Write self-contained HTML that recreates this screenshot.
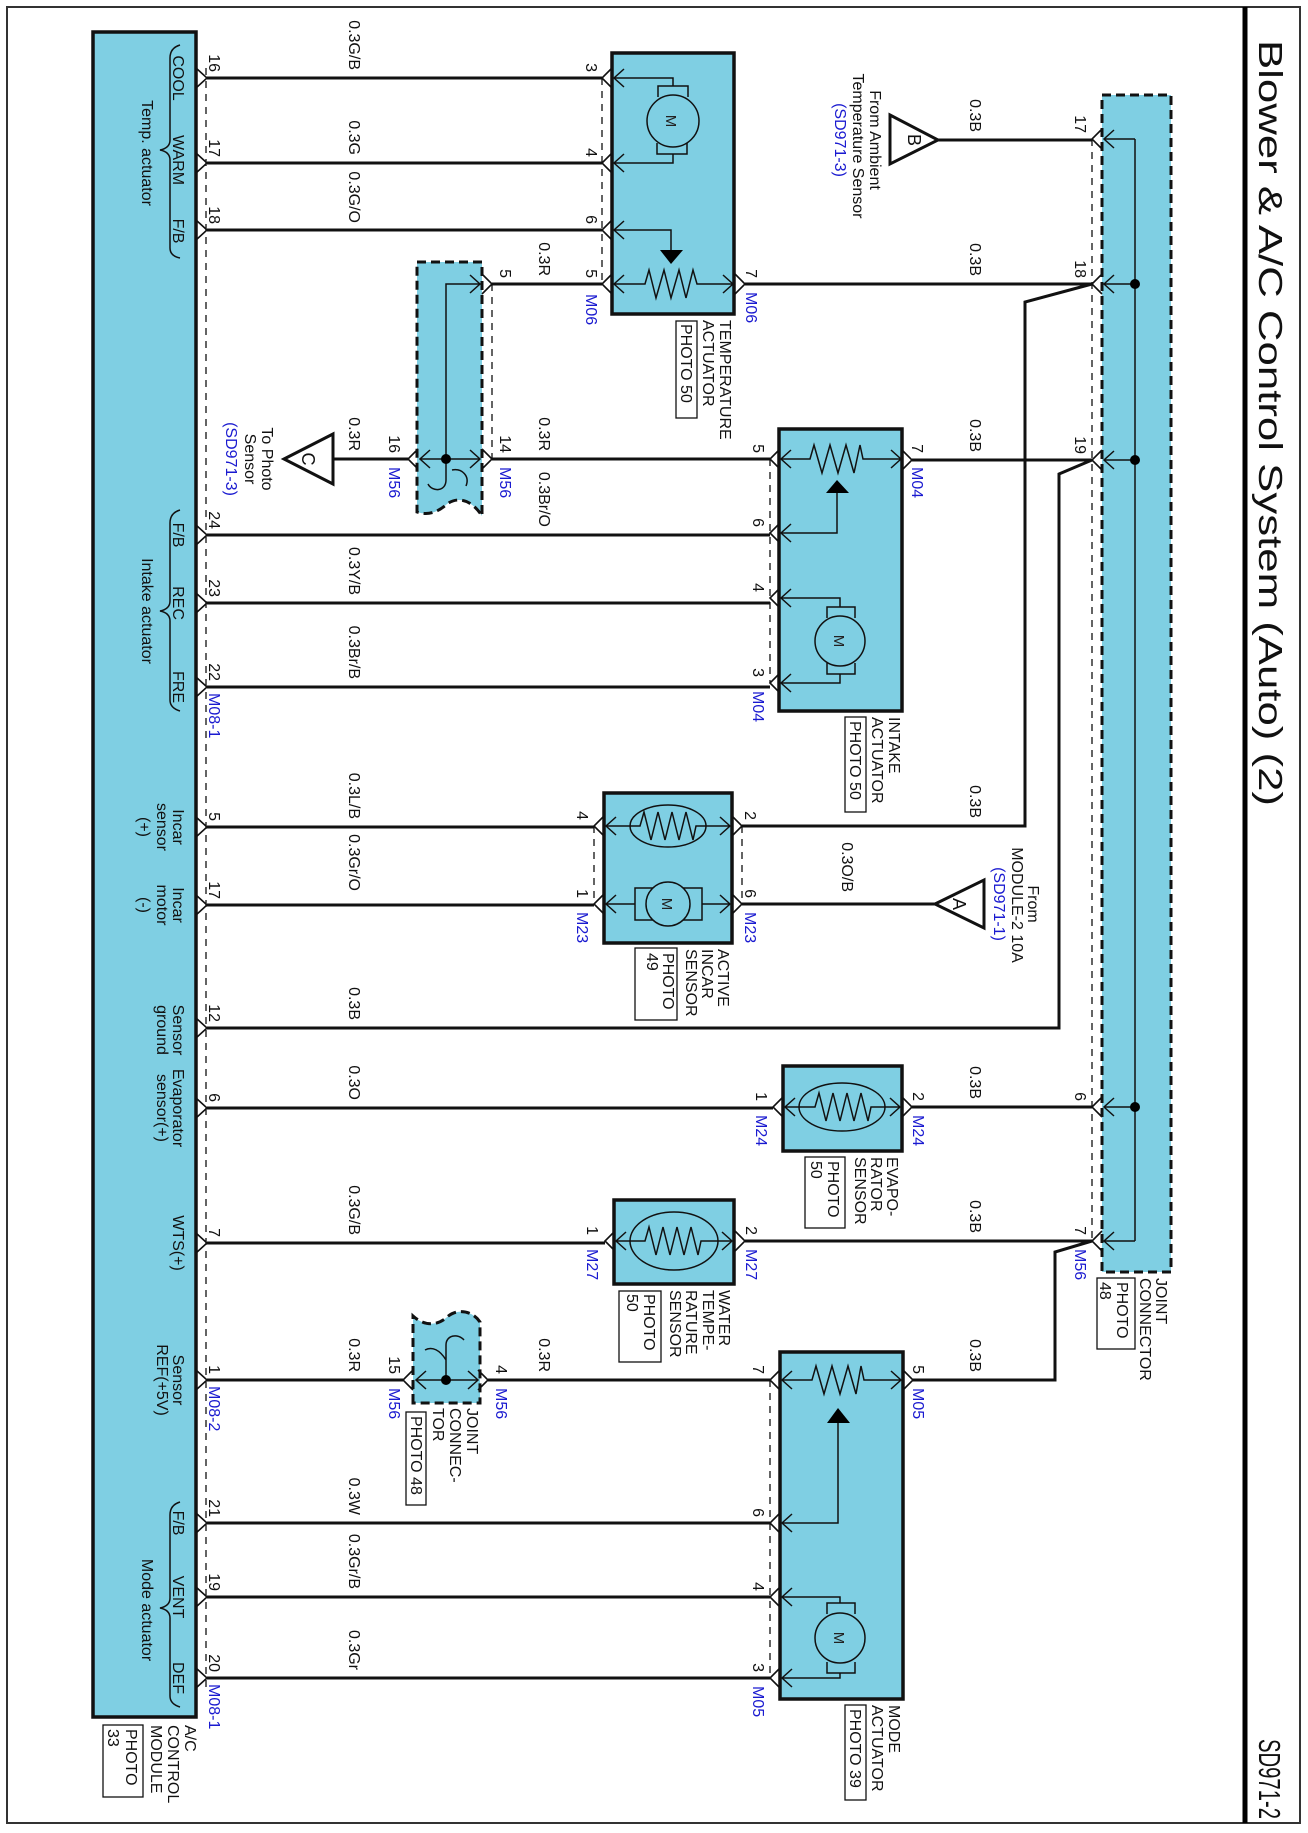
<!DOCTYPE html>
<html><head><meta charset="utf-8"><style>
html,body{margin:0;padding:0;background:#fff}
svg{display:block}
text{font-family:"Liberation Sans",Arial,sans-serif;font-size:16px;fill:#111}
.b{fill:#1a1ad0}
.s{font-size:15px;fill:#222}
.n{font-size:17px}
.w{stroke:#111;stroke-width:3;fill:none}
.th{stroke:#111;stroke-width:1.5;fill:none}
.ch{stroke:#111;stroke-width:1.6;fill:none}
.dl{stroke:#111;stroke-width:1.3;stroke-dasharray:7,6;fill:none}
.box{fill:#7fcfe3;stroke:#111;stroke-width:3.5}
.jb{fill:#7fcfe3;stroke:#111;stroke-width:3;stroke-dasharray:9,5}
.pb{fill:none;stroke:#111;stroke-width:1.3}
</style></head><body>
<svg width="1308" height="1833" viewBox="0 0 1308 1833" xmlns="http://www.w3.org/2000/svg">
<rect x="7" y="7" width="1293" height="1816" fill="none" stroke="#333" stroke-width="2"/>
<line x1="1245" y1="7" x2="1245" y2="1823" stroke="#000" stroke-width="5"/>
<text style="font-size:33px" transform="translate(1259,40) rotate(90)" textLength="766" lengthAdjust="spacingAndGlyphs">Blower &amp; A/C Control System (Auto) (2)</text>
<text style="font-size:31px" transform="translate(1259,1739) rotate(90)" textLength="80" lengthAdjust="spacingAndGlyphs">SD971-2</text>

<!-- A/C module -->
<rect class="box" x="93" y="32" width="103" height="1685"/>
<line class="dl" x1="206" y1="68" x2="206" y2="1690"/>
<g class="ch">
<polyline points="196,68 207,78 196,88"/><polyline points="196,153 207,163 196,173"/><polyline points="196,220 207,230 196,240"/>
<polyline points="196,525 207,535 196,545"/><polyline points="196,593 207,603 196,613"/><polyline points="196,677 207,687 196,697"/>
<polyline points="196,817 207,827 196,837"/><polyline points="196,895 207,905 196,915"/><polyline points="196,1018 207,1028 196,1038"/>
<polyline points="196,1098 207,1108 196,1118"/><polyline points="196,1233 207,1243 196,1253"/><polyline points="196,1370 207,1380 196,1390"/>
<polyline points="196,1513 207,1523 196,1533"/><polyline points="196,1587 207,1597 196,1607"/><polyline points="196,1668 207,1678 196,1688"/>
</g>
<g class="th">
<path d="M180,45 Q170,48 170,58 V140 Q170,148 160,150 Q170,152 170,160 V248 Q170,256 180,258"/>
<path d="M180,510 Q170,513 170,523 V601 Q170,609 160,611 Q170,613 170,621 V700 Q170,708 180,711"/>
<path d="M180,1502 Q170,1505 170,1515 V1598 Q170,1606 160,1608 Q170,1610 170,1618 V1696 Q170,1704 180,1707"/>
</g>
<g class="s">
<text transform="translate(173,78) rotate(90)" text-anchor="middle">COOL</text>
<text transform="translate(173,160) rotate(90)" text-anchor="middle">WARM</text>
<text transform="translate(173,231) rotate(90)" text-anchor="middle">F/B</text>
<text transform="translate(142,153) rotate(90)" text-anchor="middle">Temp. actuator</text>
<text transform="translate(173,535) rotate(90)" text-anchor="middle">F/B</text>
<text transform="translate(173,603) rotate(90)" text-anchor="middle">REC</text>
<text transform="translate(173,687) rotate(90)" text-anchor="middle">FRE</text>
<text transform="translate(142,611) rotate(90)" text-anchor="middle">Intake actuator</text>
<text transform="translate(173,827) rotate(90)" text-anchor="middle">Incar</text>
<text transform="translate(157,827) rotate(90)" text-anchor="middle">sensor</text>
<text transform="translate(139,827) rotate(90)" text-anchor="middle">(+)</text>
<text transform="translate(173,905) rotate(90)" text-anchor="middle">Incar</text>
<text transform="translate(157,905) rotate(90)" text-anchor="middle">motor</text>
<text transform="translate(139,905) rotate(90)" text-anchor="middle">(-)</text>
<text transform="translate(173,1030) rotate(90)" text-anchor="middle">Sensor</text>
<text transform="translate(157,1030) rotate(90)" text-anchor="middle">ground</text>
<text transform="translate(173,1108) rotate(90)" text-anchor="middle">Evaporator</text>
<text transform="translate(157,1108) rotate(90)" text-anchor="middle">sensor(+)</text>
<text transform="translate(173,1243) rotate(90)" text-anchor="middle">WTS(+)</text>
<text transform="translate(173,1380) rotate(90)" text-anchor="middle">Sensor</text>
<text transform="translate(157,1380) rotate(90)" text-anchor="middle">REF(+5V)</text>
<text transform="translate(173,1523) rotate(90)" text-anchor="middle">F/B</text>
<text transform="translate(173,1597) rotate(90)" text-anchor="middle">VENT</text>
<text transform="translate(173,1678) rotate(90)" text-anchor="middle">DEF</text>
<text transform="translate(142,1610) rotate(90)" text-anchor="middle">Mode actuator</text>
</g>
<g>
<text transform="translate(209,72) rotate(90)" text-anchor="end">16</text>
<text transform="translate(209,157) rotate(90)" text-anchor="end">17</text>
<text transform="translate(209,224) rotate(90)" text-anchor="end">18</text>
<text transform="translate(209,529) rotate(90)" text-anchor="end">24</text>
<text transform="translate(209,597) rotate(90)" text-anchor="end">23</text>
<text transform="translate(209,681) rotate(90)" text-anchor="end">22</text>
<text transform="translate(209,821) rotate(90)" text-anchor="end">5</text>
<text transform="translate(209,899) rotate(90)" text-anchor="end">17</text>
<text transform="translate(209,1022) rotate(90)" text-anchor="end">12</text>
<text transform="translate(209,1102) rotate(90)" text-anchor="end">6</text>
<text transform="translate(209,1237) rotate(90)" text-anchor="end">7</text>
<text transform="translate(209,1374) rotate(90)" text-anchor="end">1</text>
<text transform="translate(209,1517) rotate(90)" text-anchor="end">21</text>
<text transform="translate(209,1591) rotate(90)" text-anchor="end">19</text>
<text transform="translate(209,1672) rotate(90)" text-anchor="end">20</text>
<text class="b" transform="translate(209,693) rotate(90)">M08-1</text>
<text class="b" transform="translate(209,1386) rotate(90)">M08-2</text>
<text class="b" transform="translate(209,1684) rotate(90)">M08-1</text>
</g>
<g class="n">
<text transform="translate(185,1725) rotate(90)">A/C</text>
<text transform="translate(168,1725) rotate(90)">CONTROL</text>
<text transform="translate(151,1725) rotate(90)">MODULE</text>
<text transform="translate(126,1729) rotate(90)">PHOTO</text>
<text transform="translate(108,1729) rotate(90)">33</text>
</g>
<rect class="pb" x="103" y="1725" width="40" height="72"/>

<rect class="jb" x="1102" y="95" width="69" height="1177"/>
<line class="dl" x1="1092" y1="139" x2="1092" y2="1241"/>
<g class="th">
<path d="M1135,139 V1241"/>
<path d="M1104,139 H1135 M1104,284 H1135 M1104,460 H1135 M1104,1107 H1135 M1104,1241 H1135"/>
<polyline points="1114,130 1104,139 1114,148"/><polyline points="1114,275 1104,284 1114,293"/><polyline points="1114,451 1104,460 1114,469"/><polyline points="1114,1098 1104,1107 1114,1116"/><polyline points="1114,1232 1104,1241 1114,1250"/>
</g>
<g fill="#000"><circle cx="1135" cy="284" r="5"/><circle cx="1135" cy="460" r="5"/><circle cx="1135" cy="1107" r="5"/></g>
<g class="ch">
<polyline points="1102,129 1092,139 1102,149"/><polyline points="1102,274 1092,284 1102,294"/><polyline points="1102,450 1092,460 1102,470"/><polyline points="1102,1097 1092,1107 1102,1117"/><polyline points="1102,1231 1092,1241 1102,1251"/>
</g>
<text transform="translate(1075,133) rotate(90)" text-anchor="end">17</text>
<text transform="translate(1075,278) rotate(90)" text-anchor="end">18</text>
<text transform="translate(1075,454) rotate(90)" text-anchor="end">19</text>
<text transform="translate(1075,1101) rotate(90)" text-anchor="end">6</text>
<text transform="translate(1075,1235) rotate(90)" text-anchor="end">7</text>
<text class="b" transform="translate(1075,1249) rotate(90)">M56</text>
<g class="n">
<text transform="translate(1156,1278) rotate(90)">JOINT</text>
<text transform="translate(1140,1278) rotate(90)">CONNECTOR</text>
<text transform="translate(1117,1282) rotate(90)">PHOTO</text>
<text transform="translate(1100,1282) rotate(90)">48</text>
</g>
<rect class="pb" x="1097" y="1278" width="38" height="71"/>

<g class="w">
<path d="M207,78 H602 M207,163 H602 M207,230 H602"/>
<path d="M492,284 H602"/>
<path d="M745,284 H1092"/>
<path d="M284,459 L333,434 V484 Z"/>
<path d="M333,459 H408 M492,459 H770"/>
<path d="M912,460 H1092"/>
<path d="M207,535 H770 M207,603 H770 M207,687 H770"/>
<path d="M207,827 H594 M207,905 H594"/>
<path d="M742,826 H1025 V302 L1092,284"/>
<path d="M742,904 H935"/>
<path d="M935,904 L984,880 V928 Z"/>
<path d="M207,1028 H1059 V474 L1092,460"/>
<path d="M207,1108 H773 M912,1107 H1092"/>
<path d="M207,1243 H605 M745,1241 H1092"/>
<path d="M207,1380 H403 M488,1380 H770"/>
<path d="M912,1380 H1055 V1252 L1092,1241"/>
<path d="M207,1523 H770 M207,1597 H770 M207,1678 H770"/>
<path d="M890,115 L938,140 L890,164 Z M938,140 H1092"/>
</g>
<text style="font-size:18px" transform="translate(302,459) rotate(90)" text-anchor="middle">C</text>
<text style="font-size:18px" transform="translate(953,904) rotate(90)" text-anchor="middle">A</text>
<text style="font-size:18px" transform="translate(908,140) rotate(90)" text-anchor="middle">B</text>

<g>
<text transform="translate(349,70) rotate(90)" text-anchor="end">0.3G/B</text>
<text transform="translate(349,155) rotate(90)" text-anchor="end">0.3G</text>
<text transform="translate(349,223) rotate(90)" text-anchor="end">0.3G/O</text>
<text transform="translate(539,276) rotate(90)" text-anchor="end">0.3R</text>
<text transform="translate(349,451) rotate(90)" text-anchor="end">0.3R</text>
<text transform="translate(539,451) rotate(90)" text-anchor="end">0.3R</text>
<text transform="translate(539,527) rotate(90)" text-anchor="end">0.3Br/O</text>
<text transform="translate(349,595) rotate(90)" text-anchor="end">0.3Y/B</text>
<text transform="translate(349,679) rotate(90)" text-anchor="end">0.3Br/B</text>
<text transform="translate(349,819) rotate(90)" text-anchor="end">0.3L/B</text>
<text transform="translate(349,891) rotate(90)" text-anchor="end">0.3Gr/O</text>
<text transform="translate(349,1020) rotate(90)" text-anchor="end">0.3B</text>
<text transform="translate(349,1100) rotate(90)" text-anchor="end">0.3O</text>
<text transform="translate(349,1235) rotate(90)" text-anchor="end">0.3G/B</text>
<text transform="translate(349,1372) rotate(90)" text-anchor="end">0.3R</text>
<text transform="translate(539,1372) rotate(90)" text-anchor="end">0.3R</text>
<text transform="translate(349,1515) rotate(90)" text-anchor="end">0.3W</text>
<text transform="translate(349,1589) rotate(90)" text-anchor="end">0.3Gr/B</text>
<text transform="translate(349,1670) rotate(90)" text-anchor="end">0.3Gr</text>
<text transform="translate(970,132) rotate(90)" text-anchor="end">0.3B</text>
<text transform="translate(970,276) rotate(90)" text-anchor="end">0.3B</text>
<text transform="translate(970,452) rotate(90)" text-anchor="end">0.3B</text>
<text transform="translate(970,818) rotate(90)" text-anchor="end">0.3B</text>
<text transform="translate(842,892) rotate(90)" text-anchor="end">0.3O/B</text>
<text transform="translate(970,1099) rotate(90)" text-anchor="end">0.3B</text>
<text transform="translate(970,1233) rotate(90)" text-anchor="end">0.3B</text>
<text transform="translate(970,1372) rotate(90)" text-anchor="end">0.3B</text>
</g>
<text transform="translate(870,140) rotate(90)" text-anchor="middle">From Ambient</text>
<text transform="translate(853,146) rotate(90)" text-anchor="middle">Temperature Sensor</text>
<text class="b" transform="translate(835,140) rotate(90)" text-anchor="middle">(SD971-3)</text>
<text transform="translate(262,459) rotate(90)" text-anchor="middle">To Photo</text>
<text transform="translate(245,459) rotate(90)" text-anchor="middle">Sensor</text>
<text class="b" transform="translate(226,459) rotate(90)" text-anchor="middle">(SD971-3)</text>
<text transform="translate(1028,904) rotate(90)" text-anchor="middle">From</text>
<text transform="translate(1012,905) rotate(90)" text-anchor="middle">MODULE-2 10A</text>
<text class="b" transform="translate(994,904) rotate(90)" text-anchor="middle">(SD971-1)</text>

<rect class="box" x="612" y="53" width="122" height="261"/>
<line class="dl" x1="602" y1="78" x2="602" y2="284"/>
<g class="ch">
<polyline points="612,68 602,78 612,88"/><polyline points="612,153 602,163 612,173"/><polyline points="612,220 602,230 612,240"/><polyline points="612,274 602,284 612,294"/>
<polyline points="735,274 745,284 735,294"/>
</g>
<g class="th">
<polyline points="624,69 614,78 624,87"/><polyline points="624,154 614,163 624,172"/><polyline points="624,221 614,230 624,239"/><polyline points="624,275 614,284 624,293"/><polyline points="723,275 733,284 723,293"/>
<circle cx="673" cy="121" r="26"/>
<path d="M658,97 V86 H688 V97 M614,78 H673 V86 M657,143 V154 H687 V143 M673,154 V163 H614"/>
<path d="M614,284 H645 L649,270 L656,298 L664,270 L671,298 L679,270 L686,298 L693,270 L697,284 H733"/>
<path d="M614,230 H671 V252"/>
</g>
<path d="M660,250 H683 L671,264 Z" fill="#000"/>
<text class="s" transform="translate(666,121) rotate(90)" text-anchor="middle">M</text>
<text transform="translate(586,72) rotate(90)" text-anchor="end">3</text>
<text transform="translate(586,157) rotate(90)" text-anchor="end">4</text>
<text transform="translate(586,224) rotate(90)" text-anchor="end">6</text>
<text transform="translate(586,278) rotate(90)" text-anchor="end">5</text>
<text class="b" transform="translate(586,294) rotate(90)">M06</text>
<text transform="translate(746,278) rotate(90)" text-anchor="end">7</text>
<text class="b" transform="translate(746,292) rotate(90)">M06</text>
<g class="n">
<text transform="translate(720,320) rotate(90)">TEMPERATURE</text>
<text transform="translate(703,320) rotate(90)">ACTUATOR</text>
<text transform="translate(681,324) rotate(90)">PHOTO 50</text>
</g>
<rect class="pb" x="676" y="321" width="21" height="97"/>

<path class="jb" d="M417,262 H482 V516 C472,500 458,496 447,504 C436,514 426,515 417,512 Z"/>
<line class="dl" x1="492" y1="284" x2="492" y2="459"/>
<g class="ch">
<polyline points="482,274 492,284 482,294"/><polyline points="482,449 492,459 482,469"/><polyline points="418,449 408,459 418,469"/>
</g>
<g class="th">
<path d="M446,459 V284 H480 M420,459 H480"/>
<polyline points="470,275 480,284 470,293"/><polyline points="470,450 480,459 470,468"/><polyline points="430,450 420,459 430,468"/>
<path d="M446,459 V480 C446,492 432,492 428,484 M452,470 C462,468 470,476 466,486"/>
</g>
<circle cx="446" cy="459" r="5" fill="#000"/>
<text transform="translate(500,278) rotate(90)" text-anchor="end">5</text>
<text transform="translate(500,453) rotate(90)" text-anchor="end">14</text>
<text transform="translate(389,453) rotate(90)" text-anchor="end">16</text>
<text class="b" transform="translate(500,467) rotate(90)">M56</text>
<text class="b" transform="translate(389,467) rotate(90)">M56</text>

<rect class="box" x="779" y="429" width="123" height="282"/>
<line class="dl" x1="770" y1="459" x2="770" y2="683"/>
<g class="ch">
<polyline points="780,449 770,459 780,469"/><polyline points="780,523 770,533 780,543"/><polyline points="780,588 770,598 780,608"/><polyline points="780,673 770,683 780,693"/>
<polyline points="902,450 912,460 902,470"/>
</g>
<g class="th">
<polyline points="791,450 781,459 791,468"/><polyline points="791,524 781,533 791,542"/><polyline points="791,589 781,598 791,607"/><polyline points="791,674 781,683 791,692"/><polyline points="891,450 901,459 891,468"/>
<path d="M781,459 H810 L814,445 L822,473 L830,445 L838,473 L846,445 L854,473 L860,445 L863,459 H901"/>
<path d="M781,533 H837 V493"/>
<circle cx="840" cy="641" r="25"/>
<path d="M827,618 V607 H855 V618 M781,598 H840 V607 M827,663 V674 H855 V663 M840,674 V683 H781"/>
</g>
<path d="M826,493 H849 L837,480 Z" fill="#000"/>
<text class="s" transform="translate(834,641) rotate(90)" text-anchor="middle">M</text>
<text transform="translate(753,453) rotate(90)" text-anchor="end">5</text>
<text transform="translate(753,527) rotate(90)" text-anchor="end">6</text>
<text transform="translate(753,592) rotate(90)" text-anchor="end">4</text>
<text transform="translate(753,677) rotate(90)" text-anchor="end">3</text>
<text class="b" transform="translate(753,691) rotate(90)">M04</text>
<text transform="translate(912,453) rotate(90)" text-anchor="end">7</text>
<text class="b" transform="translate(912,467) rotate(90)">M04</text>
<g class="n">
<text transform="translate(889,717) rotate(90)">INTAKE</text>
<text transform="translate(872,717) rotate(90)">ACTUATOR</text>
<text transform="translate(850,721) rotate(90)">PHOTO 50</text>
</g>
<rect class="pb" x="845" y="717" width="21" height="95"/>

<rect class="box" x="604" y="793" width="128" height="150"/>
<line class="dl" x1="594" y1="826" x2="594" y2="904"/>
<line class="dl" x1="742" y1="826" x2="742" y2="904"/>
<g class="ch">
<polyline points="604,816 594,826 604,836"/><polyline points="604,894 594,904 604,914"/>
<polyline points="732,816 742,826 732,836"/><polyline points="732,894 742,904 732,914"/>
</g>
<g class="th">
<polyline points="616,817 606,826 616,835"/><polyline points="616,895 606,904 616,913"/><polyline points="720,817 730,826 720,835"/><polyline points="720,895 730,904 720,913"/>
<ellipse cx="668" cy="826" rx="38" ry="21"/>
<path d="M606,826 H640 L644,812 L651,840 L658,812 L665,840 L672,812 L679,840 L686,812 L693,840 L696,826 H730"/>
<path d="M606,904 H635 M702,904 H730"/>
<rect x="635" y="888" width="67" height="32"/>
</g>
<circle cx="668" cy="904" r="22" fill="#7fcfe3" stroke="#111" stroke-width="1.5"/>
<text class="s" transform="translate(662,904) rotate(90)" text-anchor="middle">M</text>
<text transform="translate(577,820) rotate(90)" text-anchor="end">4</text>
<text transform="translate(577,898) rotate(90)" text-anchor="end">1</text>
<text class="b" transform="translate(577,912) rotate(90)">M23</text>
<text transform="translate(745,820) rotate(90)" text-anchor="end">2</text>
<text transform="translate(745,898) rotate(90)" text-anchor="end">6</text>
<text class="b" transform="translate(745,912) rotate(90)">M23</text>
<g class="n">
<text transform="translate(718,949) rotate(90)">ACTIVE</text>
<text transform="translate(702,949) rotate(90)">INCAR</text>
<text transform="translate(686,949) rotate(90)">SENSOR</text>
<text transform="translate(663,953) rotate(90)">PHOTO</text>
<text transform="translate(647,953) rotate(90)">49</text>
</g>
<rect class="pb" x="635" y="948" width="42" height="72"/>

<rect class="box" x="783" y="1066" width="119" height="85"/>
<g class="ch">
<polyline points="783,1097 773,1107 783,1117"/><polyline points="902,1097 912,1107 902,1117"/>
</g>
<g class="th">
<polyline points="795,1098 785,1107 795,1116"/><polyline points="890,1098 900,1107 890,1116"/>
<ellipse cx="842" cy="1107" rx="43" ry="24"/>
<path d="M785,1107 H815 L819,1093 L826,1121 L833,1093 L840,1121 L847,1093 L854,1121 L861,1093 L868,1121 L871,1107 H900"/>
</g>
<text transform="translate(756,1101) rotate(90)" text-anchor="end">1</text>
<text class="b" transform="translate(756,1115) rotate(90)">M24</text>
<text transform="translate(913,1101) rotate(90)" text-anchor="end">2</text>
<text class="b" transform="translate(913,1115) rotate(90)">M24</text>
<g class="n">
<text transform="translate(887,1157) rotate(90)">EVAPO-</text>
<text transform="translate(871,1157) rotate(90)">RATOR</text>
<text transform="translate(855,1157) rotate(90)">SENSOR</text>
<text transform="translate(828,1161) rotate(90)">PHOTO</text>
<text transform="translate(811,1161) rotate(90)">50</text>
</g>
<rect class="pb" x="805" y="1157" width="40" height="71"/>

<rect class="box" x="614" y="1200" width="120" height="84"/>
<g class="ch">
<polyline points="615,1231 605,1241 615,1251"/><polyline points="735,1231 745,1241 735,1251"/>
</g>
<g class="th">
<polyline points="626,1232 616,1241 626,1250"/><polyline points="722,1232 732,1241 722,1250"/>
<ellipse cx="674" cy="1241" rx="44" ry="29"/>
<path d="M616,1241 H645 L649,1227 L656,1255 L663,1227 L670,1255 L677,1227 L684,1255 L691,1227 L698,1255 L701,1241 H732"/>
</g>
<text transform="translate(587,1235) rotate(90)" text-anchor="end">1</text>
<text class="b" transform="translate(587,1249) rotate(90)">M27</text>
<text transform="translate(746,1235) rotate(90)" text-anchor="end">2</text>
<text class="b" transform="translate(746,1249) rotate(90)">M27</text>
<g class="n">
<text transform="translate(719,1290) rotate(90)">WATER</text>
<text transform="translate(703,1290) rotate(90)">TEMPE-</text>
<text transform="translate(686,1290) rotate(90)">RATURE</text>
<text transform="translate(670,1290) rotate(90)">SENSOR</text>
<text transform="translate(644,1294) rotate(90)">PHOTO</text>
<text transform="translate(627,1294) rotate(90)">50</text>
</g>
<rect class="pb" x="619" y="1291" width="42" height="71"/>

<path class="jb" d="M413,1403 V1316 C424,1326 436,1326 446,1318 C456,1308 472,1310 480,1322 V1403 Z"/>
<g class="ch">
<polyline points="413,1370 403,1380 413,1390"/><polyline points="478,1370 488,1380 478,1390"/>
</g>
<g class="th">
<path d="M416,1380 H478 M446,1380 V1345 M446,1360 C440,1350 432,1346 425,1350 M446,1345 C446,1335 458,1333 464,1340"/>
<polyline points="426,1371 416,1380 426,1389"/><polyline points="468,1371 478,1380 468,1389"/>
</g>
<circle cx="446" cy="1380" r="5" fill="#000"/>
<text transform="translate(389,1374) rotate(90)" text-anchor="end">15</text>
<text class="b" transform="translate(389,1388) rotate(90)">M56</text>
<text transform="translate(496,1374) rotate(90)" text-anchor="end">4</text>
<text class="b" transform="translate(496,1388) rotate(90)">M56</text>
<g class="n">
<text transform="translate(467,1408) rotate(90)">JOINT</text>
<text transform="translate(450,1408) rotate(90)">CONNEC-</text>
<text transform="translate(433,1408) rotate(90)">TOR</text>
<text transform="translate(411,1416) rotate(90)">PHOTO 48</text>
</g>
<rect class="pb" x="406" y="1412" width="20" height="93"/>

<rect class="box" x="780" y="1352" width="123" height="347"/>
<line class="dl" x1="770" y1="1380" x2="770" y2="1678"/>
<g class="ch">
<polyline points="780,1370 770,1380 780,1390"/><polyline points="780,1513 770,1523 780,1533"/><polyline points="780,1587 770,1597 780,1607"/><polyline points="780,1668 770,1678 780,1688"/>
<polyline points="903,1370 913,1380 903,1390"/>
</g>
<g class="th">
<polyline points="792,1371 782,1380 792,1389"/><polyline points="792,1514 782,1523 792,1532"/><polyline points="792,1588 782,1597 792,1606"/><polyline points="792,1669 782,1678 792,1687"/><polyline points="891,1371 901,1380 891,1389"/>
<path d="M782,1380 H812 L816,1366 L824,1394 L832,1366 L840,1394 L848,1366 L856,1394 L861,1366 L864,1380 H901"/>
<path d="M782,1523 H838 V1422"/>
<circle cx="840" cy="1638" r="25"/>
<path d="M827,1614 V1603 H855 V1614 M782,1597 H840 V1603 M827,1662 V1673 H855 V1662 M840,1673 V1678 H782"/>
</g>
<path d="M827,1423 H850 L838,1408 Z" fill="#000"/>
<text class="s" transform="translate(834,1638) rotate(90)" text-anchor="middle">M</text>
<text transform="translate(753,1374) rotate(90)" text-anchor="end">7</text>
<text transform="translate(753,1517) rotate(90)" text-anchor="end">6</text>
<text transform="translate(753,1591) rotate(90)" text-anchor="end">4</text>
<text transform="translate(753,1672) rotate(90)" text-anchor="end">3</text>
<text class="b" transform="translate(753,1686) rotate(90)">M05</text>
<text transform="translate(913,1374) rotate(90)" text-anchor="end">5</text>
<text class="b" transform="translate(913,1388) rotate(90)">M05</text>
<g class="n">
<text transform="translate(889,1705) rotate(90)">MODE</text>
<text transform="translate(872,1705) rotate(90)">ACTUATOR</text>
<text transform="translate(850,1709) rotate(90)">PHOTO 39</text>
</g>
<rect class="pb" x="845" y="1705" width="21" height="95"/>
</svg>
</body></html>
